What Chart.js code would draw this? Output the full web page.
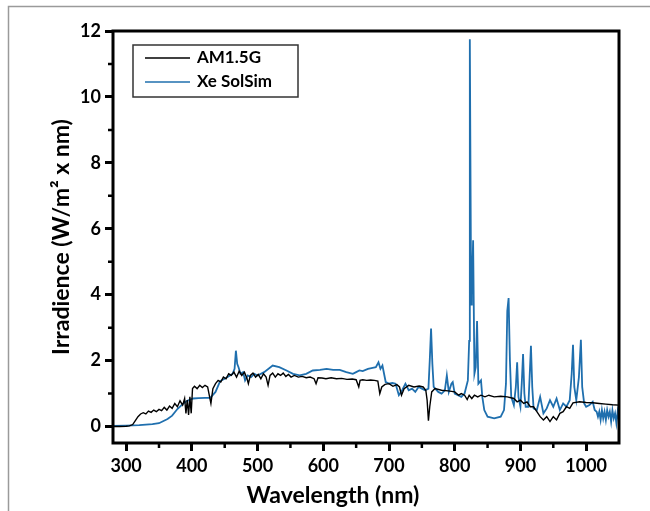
<!DOCTYPE html>
<html>
<head>
<meta charset="utf-8">
<script src="https://cdn.jsdelivr.net/npm/chart.js@4"></script>
<style>
  html, body { margin: 0; padding: 0; background: #fff; }
  #wrap { width: 650px; height: 511px; }
</style>
</head>
<body>
<div id="wrap"><canvas id="irrChart" width="650" height="511"></canvas></div>
<script>
// AM1.5G reference spectrum (nm, W/m2 nm)
const am15Wl = [280, 290, 300, 305, 310, 314, 318, 322, 326, 330, 334, 338, 342, 346, 350, 354, 358, 362, 366, 370, 374, 378, 382, 386, 389, 391, 393, 395, 397, 399, 401, 404, 408, 412, 416, 420, 424, 427, 429, 432, 436, 440, 444, 448, 452, 456, 460, 464, 468, 472, 476, 480, 484, 486, 489, 493, 497, 501, 505, 509, 513, 516, 519, 523, 527, 531, 535, 539, 543, 547, 551, 556, 562, 568, 574, 580, 586, 589, 592, 598, 604, 612, 620, 628, 636, 644, 650, 654, 656, 660, 666, 672, 678, 683, 686, 689, 694, 700, 706, 712, 716, 719, 723, 730, 738, 746, 752, 756, 758, 760, 762, 765, 770, 780, 790, 800, 806, 810, 815, 819, 822, 826, 830, 835, 840, 846, 852, 860, 870, 880, 890, 895, 900, 905, 910, 915, 920, 925, 930, 935, 940, 945, 950, 955, 960, 965, 970, 975, 980, 990, 1000, 1010, 1020, 1030, 1040, 1050];
const am15Val = [0, 0, 0.01, 0.02, 0.06, 0.18, 0.3, 0.38, 0.42, 0.38, 0.47, 0.43, 0.5, 0.45, 0.52, 0.48, 0.58, 0.5, 0.62, 0.55, 0.7, 0.6, 0.78, 0.65, 0.85, 0.4, 0.8, 0.35, 0.9, 0.4, 1.15, 1.22, 1.15, 1.25, 1.18, 1.25, 1.2, 0.9, 0.7, 1.15, 1.3, 1.4, 1.35, 1.5, 1.45, 1.6, 1.55, 1.65, 1.5, 1.68, 1.55, 1.65, 1.45, 1.3, 1.55, 1.62, 1.5, 1.58, 1.45, 1.6, 1.5, 1.25, 1.55, 1.62, 1.5, 1.6, 1.55, 1.62, 1.52, 1.58, 1.5, 1.55, 1.5, 1.52, 1.48, 1.5, 1.45, 1.3, 1.48, 1.47, 1.45, 1.48, 1.45, 1.46, 1.43, 1.44, 1.42, 1.2, 1.4, 1.42, 1.4, 1.41, 1.4, 1.38, 1.0, 1.2, 1.28, 1.3, 1.22, 1.27, 1.2, 0.95, 1.15, 1.25, 1.2, 1.23, 1.2, 1.1, 0.8, 0.18, 0.6, 1.05, 1.15, 1.1, 1.08, 1.05, 0.95, 1.0, 0.95, 0.82, 0.95, 0.85, 0.95, 0.9, 0.95, 0.9, 0.95, 0.9, 0.92, 0.9, 0.85, 0.75, 0.8, 0.7, 0.75, 0.6, 0.6, 0.45, 0.3, 0.2, 0.3, 0.15, 0.3, 0.2, 0.4, 0.45, 0.6, 0.55, 0.72, 0.75, 0.73, 0.72, 0.7, 0.68, 0.66, 0.65];

// Xe solar simulator spectrum
const xeWl = [280, 300, 320, 340, 350, 363, 370, 378, 386, 393, 402, 410, 420, 428, 436, 443, 450, 458, 462, 465, 467, 469, 471, 474, 478, 481, 485, 490, 495, 500, 510, 523, 533, 544, 554, 564, 574, 584, 595, 605, 615, 625, 635, 645, 650, 655, 660, 668, 675, 680, 684, 687, 690, 695, 700, 705, 710, 715, 720, 725, 730, 735, 740, 745, 750, 755, 760, 762, 764, 766, 768, 775, 780, 785, 788, 791, 795, 797, 800, 805, 810, 815, 820, 822, 823, 825, 826, 828, 830, 832, 834, 836, 840, 842, 845, 850, 860, 870, 875, 878, 880, 882, 884, 886, 890, 893, 895, 897, 900, 902, 904, 906, 908, 912, 914, 916, 918, 920, 925, 930, 935, 940, 945, 950, 955, 960, 965, 970, 975, 978, 980, 982, 985, 989, 992, 994, 997, 1000, 1005, 1010, 1013, 1016, 1018, 1020, 1022, 1024, 1026, 1028, 1030, 1032, 1034, 1036, 1038, 1040, 1042, 1044, 1046, 1048, 1050];
const xeVal = [0.02, 0.03, 0.04, 0.07, 0.1, 0.23, 0.33, 0.53, 0.68, 0.78, 0.85, 0.86, 0.87, 0.87, 1.05, 1.38, 1.45, 1.55, 1.6, 1.75, 2.3, 1.9, 1.8, 1.6, 1.65, 1.4, 1.55, 1.5, 1.6, 1.55, 1.65, 1.85, 1.8, 1.7, 1.6, 1.55, 1.6, 1.7, 1.72, 1.75, 1.72, 1.72, 1.65, 1.6, 1.65, 1.7, 1.68, 1.75, 1.78, 1.8, 1.95, 1.75, 1.85, 1.35, 1.3, 1.32, 1.3, 0.95, 1.1, 1.3, 1.1, 1.15, 1.05, 1.2, 1.15, 1.1, 1.15, 2.0, 2.97, 1.9, 1.2, 1.05, 1.0, 1.1, 1.55, 1.05, 1.3, 1.35, 1.0, 0.95, 0.9, 1.0, 1.4, 2.6, 11.75, 3.7, 4.0, 5.65, 1.6, 1.8, 3.2, 1.3, 1.4, 0.9, 0.5, 0.3, 0.25, 0.3, 0.5, 1.3, 3.5, 3.9, 2.0, 0.9, 0.65, 1.2, 1.95, 0.9, 0.6, 1.3, 2.2, 1.0, 0.6, 0.6, 1.5, 2.45, 1.2, 0.55, 0.5, 0.9, 0.4, 0.55, 0.8, 0.6, 0.85, 0.5, 0.7, 0.6, 0.8, 1.6, 2.48, 1.2, 0.8, 1.5, 2.63, 1.2, 0.7, 0.6, 0.65, 0.75, 0.5, 0.45, 0.3, 0.45, 0.2, 0.5, 0.25, 0.45, 0.2, 0.5, 0.3, 0.45, 0.15, 0.5, 0.25, 0.4, 0.1, 0.45, 0.2];

const seriesNames = ["AM1.5G", "Xe SolSim"];
const xTicks = [300, 400, 500, 600, 700, 800, 900, 1000];
const xMinor = [350, 450, 550, 650, 750, 850, 950];
const yTicks = [0, 2, 4, 6, 8, 10, 12];
const yMinor = [1, 3, 5, 7, 9, 11];
const xTitle = "Wavelength (nm)";
const yTitle = "Irradience (W/m\u00b2 x nm)";

const fontFam = "Lato, 'Open Sans', sans-serif";

const toPoints = (xs, ys) => xs.map((x, i) => ({ x: x, y: ys[i] }));

// marco gris exterior, marco negro del grafico, ticks menores, titulo x y leyenda
const decor = {
  id: "decor",
  beforeDraw(chart) {
    const ctx = chart.ctx;
    ctx.save();
    ctx.strokeStyle = "#9a9a9a";
    ctx.lineWidth = 1.5;
    ctx.beginPath();
    ctx.moveTo(8.5, 511);
    ctx.lineTo(8.5, 6.5);
    ctx.lineTo(650, 6.5);
    ctx.stroke();
    ctx.restore();
  },
  afterDraw(chart) {
    const ctx = chart.ctx;
    const a = chart.chartArea;
    const xs = chart.scales.x, ys = chart.scales.y;
    ctx.save();
    ctx.strokeStyle = "#000";
    ctx.lineWidth = 3;
    ctx.strokeRect(a.left, a.top, a.right - a.left, a.bottom - a.top);

    ctx.lineWidth = 2.5;
    ctx.beginPath();
    xMinor.forEach(v => {
      const px = xs.getPixelForValue(v);
      ctx.moveTo(px, a.bottom);
      ctx.lineTo(px, a.bottom + 5);
    });
    yMinor.forEach(v => {
      const py = ys.getPixelForValue(v);
      ctx.moveTo(a.left, py);
      ctx.lineTo(a.left - 5, py);
    });
    ctx.stroke();

    // titulo del eje x (en el original esta algo a la izquierda)
    ctx.fillStyle = "#000";
    ctx.font = "bold 23px " + fontFam;
    ctx.textAlign = "center";
    ctx.textBaseline = "middle";
    ctx.fillText(xTitle, 333, 496);

    // leyenda
    const lx = a.left + 20, ly = a.top + 14;
    ctx.lineWidth = 1.5;
    ctx.strokeStyle = "#333";
    ctx.strokeRect(lx, ly, 165, 52);
    ctx.font = "bold 17px " + fontFam;
    ctx.textAlign = "left";
    chart.data.datasets.forEach((ds, i) => {
      const y = ly + 13 + i * 24;
      ctx.strokeStyle = ds.borderColor;
      ctx.lineWidth = 1.5;
      ctx.beginPath();
      ctx.moveTo(lx + 12, y);
      ctx.lineTo(lx + 57, y);
      ctx.stroke();
      ctx.fillText(ds.label, lx + 64, y);
    });
    ctx.restore();
  }
};

new Chart(document.getElementById("irrChart").getContext("2d"), {
  type: "line",
  data: {
    datasets: [
      {
        label: seriesNames[0],
        data: toPoints(am15Wl, am15Val),
        borderColor: "#000000",
        borderWidth: 1.4,
        pointRadius: 0,
        tension: 0,
        fill: false
      },
      {
        label: seriesNames[1],
        data: toPoints(xeWl, xeVal),
        borderColor: "#1f6fae",
        borderWidth: 1.8,
        pointRadius: 0,
        tension: 0,
        fill: false
      }
    ]
  },
  options: {
    animation: false,
    responsive: false,
    layout: { padding: { left: 0, top: 31, right: 31, bottom: 0 } },
    plugins: { legend: { display: false }, tooltip: { enabled: false } },
    scales: {
      x: {
        type: "linear",
        min: 280,
        max: 1050,
        afterBuildTicks: s => { s.ticks = xTicks.map(v => ({ value: v })); },
        afterFit: s => { s.height = 68; },
        border: { display: false },
        grid: { drawOnChartArea: false, drawTicks: true, tickLength: 8, tickWidth: 3, tickColor: "#000" },
        ticks: { color: "#000", padding: 4, maxRotation: 0, callback: v => String(v), font: { family: fontFam, size: 18, weight: "bold" } },
        title: { display: false }
      },
      y: {
        type: "linear",
        min: -0.5,
        max: 12,
        afterBuildTicks: s => { s.ticks = yTicks.map(v => ({ value: v })); },
        afterFit: s => { s.width = 113; },
        border: { display: false },
        grid: { drawOnChartArea: false, drawTicks: true, tickLength: 8, tickWidth: 3, tickColor: "#000" },
        ticks: { color: "#000", padding: 4, callback: v => String(v), font: { family: fontFam, size: 18, weight: "bold" } },
        title: { display: true, text: yTitle, color: "#000", padding: { top: 48, bottom: 48 }, font: { family: fontFam, size: 23, weight: "bold" } }
      }
    }
  },
  plugins: [decor]
});
</script>
</body>
</html>
